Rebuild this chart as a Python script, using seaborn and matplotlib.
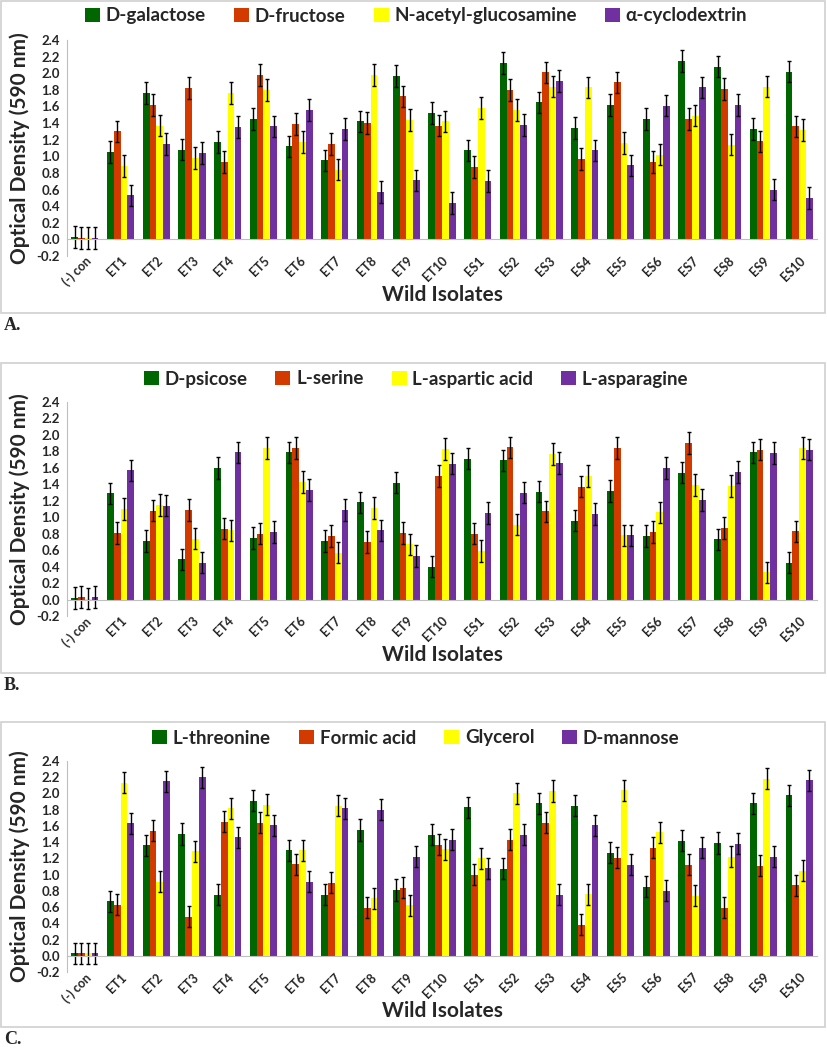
import matplotlib
matplotlib.use("Agg")
import matplotlib.pyplot as plt
from matplotlib.patches import Patch, Rectangle
from matplotlib.ticker import FixedLocator, FormatStrFormatter
import pandas as pd
import seaborn as sns

isolates = ["(-) con", "ET1", "ET2", "ET3", "ET4", "ET5", "ET6", "ET7", "ET8", "ET9", "ET10",
            "ES1", "ES2", "ES3", "ES4", "ES5", "ES6", "ES7", "ES8", "ES9", "ES10"]
colors = ["#006600", "#D23A00", "#FFFF00", "#7030A0"]
err = 0.13

# panel A
subs_a = ["D-galactose", "D-fructose", "N-acetyl-glucosamine", "\u03b1-cyclodextrin"]
galactose = [0.03, 1.05, 1.76, 1.08, 1.17, 1.45, 1.12, 0.95, 1.42, 1.97, 1.52,
             1.07, 2.12, 1.65, 1.34, 1.62, 1.45, 2.15, 2.08, 1.33, 2.02]
fructose = [0.02, 1.30, 1.62, 1.82, 0.93, 1.98, 1.39, 1.15, 1.40, 1.72, 1.37,
            0.87, 1.80, 2.01, 0.97, 1.89, 0.93, 1.45, 1.81, 1.18, 1.36]
nag = [0.02, 0.88, 1.37, 0.98, 1.76, 1.80, 1.17, 0.84, 1.98, 1.44, 1.42,
       1.58, 1.56, 1.84, 1.83, 1.16, 1.02, 1.49, 1.14, 1.84, 1.32]
cyclodextrin = [0.02, 0.53, 1.15, 1.04, 1.35, 1.36, 1.56, 1.33, 0.57, 0.71, 0.44,
                0.70, 1.38, 1.91, 1.07, 0.89, 1.61, 1.83, 1.62, 0.60, 0.50]

# panel B
subs_b = ["D-psicose", "L-serine", "L-aspartic acid", "L-asparagine"]
psicose = [0.02, 1.29, 0.71, 0.49, 1.60, 0.75, 1.79, 0.71, 1.18, 1.42, 0.40,
           1.71, 1.69, 1.31, 0.96, 1.32, 0.77, 1.54, 0.73, 1.79, 0.45]
serine = [0.03, 0.81, 1.08, 1.09, 0.86, 0.80, 1.84, 0.77, 0.70, 0.81, 1.50,
          0.80, 1.85, 1.07, 1.37, 1.84, 0.82, 1.90, 0.87, 1.82, 0.83]
aspartic = [0.01, 1.10, 1.15, 0.74, 0.84, 1.84, 1.43, 0.57, 1.11, 0.67, 1.83,
            0.59, 0.91, 1.77, 1.50, 0.78, 1.06, 1.39, 1.38, 0.33, 1.84]
asparagine = [0.03, 1.57, 1.14, 0.45, 1.79, 0.82, 1.33, 1.09, 0.84, 0.53, 1.65,
              1.05, 1.30, 1.66, 1.04, 0.78, 1.60, 1.21, 1.55, 1.78, 1.82]

# panel C
subs_c = ["L-threonine", "Formic acid", "Glycerol", "D-mannose"]
threonine = [0.03, 0.67, 1.36, 1.50, 0.75, 1.91, 1.30, 0.75, 1.55, 0.81, 1.49,
             1.83, 1.07, 1.88, 1.85, 1.27, 0.85, 1.42, 1.39, 1.88, 1.98]
formic = [0.03, 0.63, 1.54, 0.48, 1.65, 1.64, 1.13, 0.90, 0.59, 0.84, 1.37,
          1.00, 1.43, 1.64, 0.38, 1.21, 1.33, 1.12, 0.59, 1.11, 0.87]
glycerol = [0.03, 2.13, 0.91, 1.29, 1.82, 1.86, 1.30, 1.85, 0.71, 0.62, 1.31,
            1.20, 2.00, 2.03, 0.76, 2.04, 1.52, 0.74, 1.22, 2.18, 1.05]
mannose = [0.03, 1.63, 2.15, 2.20, 1.46, 1.61, 0.91, 1.82, 1.80, 1.22, 1.43,
           1.08, 1.49, 0.75, 1.61, 1.12, 0.80, 1.33, 1.38, 1.22, 2.16]

panels = [
    ("A.", subs_a, [galactose, fructose, nag, cyclodextrin]),
    ("B.", subs_b, [psicose, serine, aspartic, asparagine]),
    ("C.", subs_c, [threonine, formic, glycerol, mannose]),
]

W, H = 827, 1050
# pixel layout: (axes top, axes bottom, box top, box bottom, legend y, xlabel y, letter y)
layout = [
    (40, 256, 1, 313, 16, 295, 326),
    (402, 616, 363, 673, 379, 655, 686),
    (761, 972, 722, 1027, 738, 1011, 1040),
]

sns.set_style("white")
plt.rcParams["font.family"] = ["Lato", "DejaVu Sans"]
plt.rcParams["font.weight"] = "bold"

fig = plt.figure(figsize=(W / 100, H / 100), dpi=100)

for (letter, subs, series), (at, ab, bt, bb, ly, xy, ty) in zip(panels, layout):
    fig.patches.append(Rectangle((1 / W, 1 - bb / H), (W - 3) / W, (bb - bt) / H,
                                 transform=fig.transFigure, fill=False,
                                 edgecolor="#D0D0D0", linewidth=1.2))
    ax = fig.add_axes([67 / W, 1 - ab / H, 750 / W, (ab - at) / H])

    rows = []
    for s, vals in zip(subs, series):
        for iso, v in zip(isolates, vals):
            rows.append({"isolate": iso, "od": v, "substrate": s})
    df = pd.DataFrame(rows)

    sns.barplot(data=df, x="isolate", y="od", hue="substrate", order=isolates,
                hue_order=subs, palette=colors, saturation=1, width=0.76,
                errorbar=None, legend=False, linewidth=0, ax=ax)

    for cont, vals in zip(ax.containers, series):
        xs = [p.get_x() + p.get_width() / 2 for p in cont]
        ax.errorbar(xs, vals, yerr=err, fmt="none", ecolor="black",
                    elinewidth=1.0, capsize=1.5, capthick=1.0)

    ax.set_ylim(-0.2, 2.4)
    ax.set_xlim(-0.5, len(isolates) - 0.5)
    ax.yaxis.set_major_locator(FixedLocator([round(-0.2 + 0.2 * i, 1) for i in range(14)]))
    ax.yaxis.set_major_formatter(FormatStrFormatter("%.1f"))
    ax.tick_params(axis="y", labelsize=9.5, length=3, color="#BFBFBF", width=1, pad=2)

    for side in ["top", "right"]:
        ax.spines[side].set_visible(False)
    ax.spines["left"].set_color("#BFBFBF")
    ax.spines["bottom"].set_color("#BFBFBF")
    ax.spines["bottom"].set_position(("data", 0))

    ax.set_xticks(range(len(isolates)))
    ax.set_xticks([i + 0.5 for i in range(-1, len(isolates))], minor=True)
    ax.tick_params(axis="x", which="major", length=0, labelsize=9, pad=11)
    ax.tick_params(axis="x", which="minor", length=4, color="#BFBFBF", width=1)
    for lab in ax.get_xticklabels():
        lab.set_rotation(45)
        lab.set_ha("right")
        lab.set_rotation_mode("anchor")
        lab.set_fontweight("bold")
    for lab in ax.get_yticklabels():
        lab.set_fontweight("bold")
    ax.set_xlabel("")
    ax.set_ylabel("")

    fig.text(20 / W, 1 - (at + ab) / 2 / H, "Optical Density (590 nm)", rotation=90,
             ha="center", va="center", fontsize=15, fontweight="bold")
    fig.text(442 / W, 1 - xy / H, "Wild Isolates", ha="center", va="center",
             fontsize=15, fontweight="bold")
    fig.text(4 / W, 1 - ty / H, letter, ha="left", va="center", fontsize=13,
             fontweight="bold", family="Liberation Serif")

    handles = [Patch(facecolor=c, edgecolor="none", label=s) for c, s in zip(colors, subs)]
    ax.legend(handles=handles, loc="center", bbox_to_anchor=(416 / W, 1 - ly / H),
              bbox_transform=fig.transFigure, ncol=4, frameon=False,
              handlelength=0.8, handleheight=0.8, handletextpad=0.3,
              columnspacing=1.5, prop={"weight": "bold", "size": 13.5})

fig.savefig("out.png", dpi=100)
